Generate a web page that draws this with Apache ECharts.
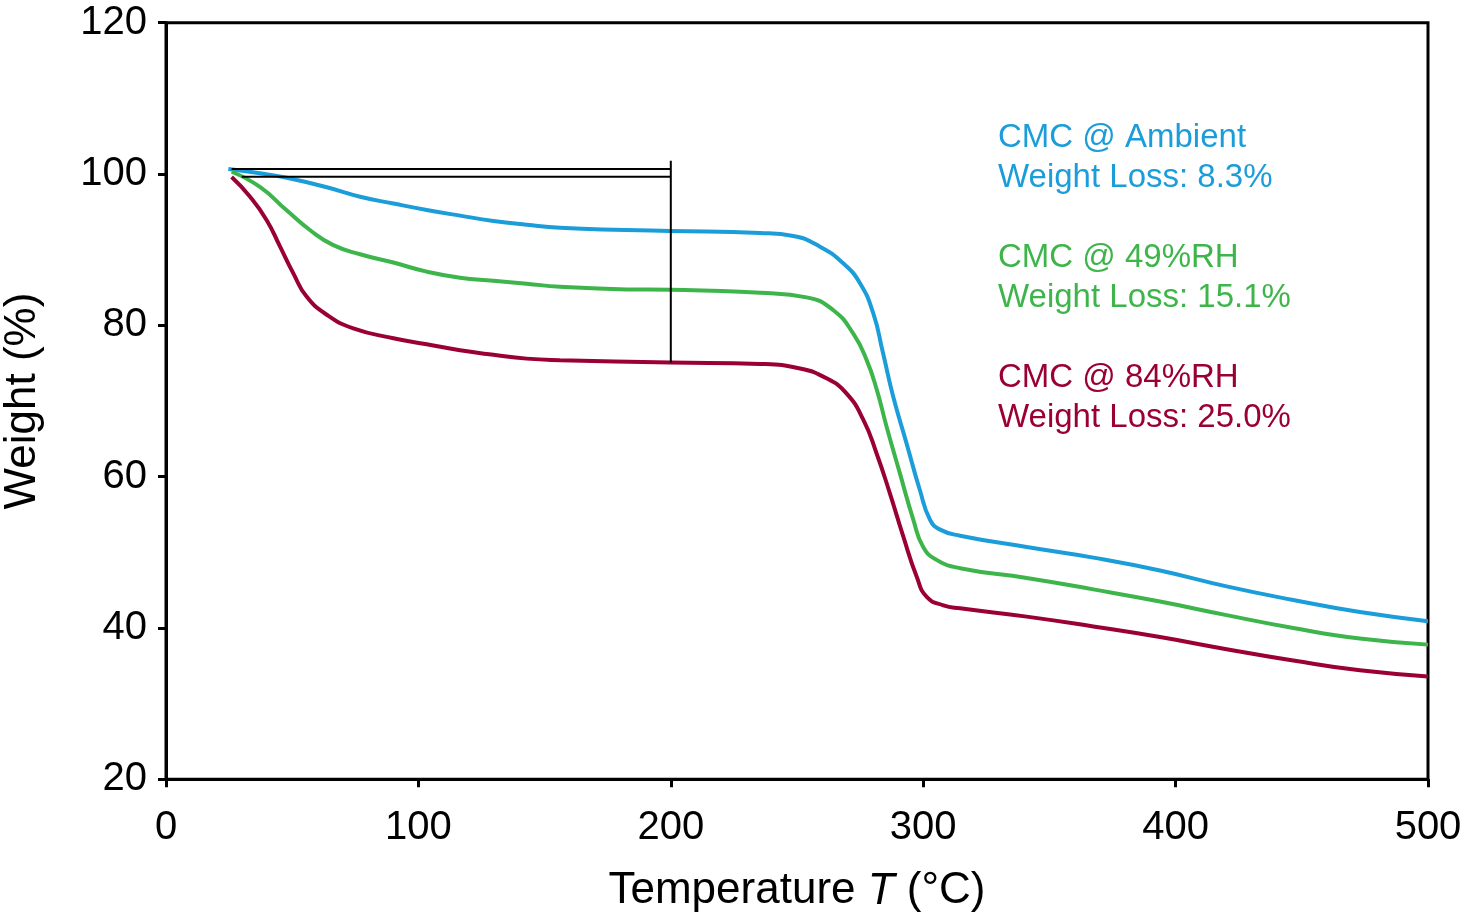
<!DOCTYPE html>
<html>
<head>
<meta charset="utf-8">
<script src="https://cdn.jsdelivr.net/npm/echarts@6/dist/echarts.min.js"></script>
<style>
html,body{margin:0;padding:0;background:#fff;}
#chart{width:1466px;height:924px;}
</style>
</head>
<body>
<div id="chart"></div>
<script>
// ---- data ----
var ambientTemp   = [24.7, 37.2, 47.8, 63.7, 76.9, 90.1, 103.3, 116.5, 129.7, 142.9, 156.1, 182, 199.7, 235.3, 248.5, 259.1, 268.3, 274.9, 280.2, 284.1, 288.1, 293.4, 298.7, 302.7, 306.7, 314.6, 341, 367.4, 393.8, 420.2, 446.6, 473, 500];
var ambientWeight = [100.66, 100.1, 99.5, 98.25, 97.0, 96.1, 95.25, 94.5, 93.8, 93.3, 92.9, 92.6, 92.47, 92.2, 91.8, 90.4, 88.2, 85.6, 81.6, 76.3, 70.6, 64.4, 58.2, 54.3, 53.0, 52.2, 50.7, 49.3, 47.6, 45.5, 43.7, 42.1, 40.9];

var rh49Temp   = [26, 37.2, 47.8, 57, 66.3, 76.9, 90.1, 103.3, 116.5, 129.7, 142.9, 156.1, 182.5, 199.7, 235.3, 253.8, 264.4, 272.3, 277.6, 281.6, 285.5, 290.8, 296.1, 300, 305.3, 314.6, 341, 367.4, 393.8, 420.2, 446.6, 473, 500];
var rh49Weight = [100.3, 98.3, 95.2, 92.6, 90.6, 89.4, 88.3, 87.1, 86.3, 85.9, 85.5, 85.1, 84.75, 84.7, 84.3, 83.7, 82.0, 78.9, 75.4, 71.5, 66.6, 60.4, 54.3, 50.7, 49.0, 47.9, 46.6, 45.1, 43.5, 41.7, 40.0, 38.6, 37.8];

var rh84Temp   = [26, 33.3, 39.9, 45.2, 50.4, 55.7, 63.7, 74.2, 90.1, 103.3, 116.5, 129.7, 142.9, 156.1, 199.7, 235.3, 251.2, 261.7, 269.6, 276.3, 281.5, 286.8, 292.1, 297.4, 301.4, 308, 314.6, 341, 367.4, 393.8, 420.2, 446.6, 473, 500];
var rh84Weight = [99.6, 97.0, 93.9, 90.4, 86.9, 83.8, 81.4, 79.6, 78.3, 77.5, 76.7, 76.1, 75.6, 75.4, 75.1, 74.9, 74.3, 73.0, 71.0, 67.5, 63.1, 57.8, 52.1, 46.8, 44.1, 43.0, 42.6, 41.5, 40.2, 38.8, 37.2, 35.7, 34.4, 33.6];

// reference (measurement) lines
var refUpperTemp = [26, 200];   var refUpperWeight = [100.65, 100.65];
var refLowerTemp = [30, 200];   var refLowerWeight = [99.65, 99.65];
var refVertTemp  = [200, 200];  var refVertWeight  = [101.75, 75.1];

// axis ticks
var xTicks = [0, 100, 200, 300, 400, 500];
var yTicks = [20, 40, 60, 80, 100, 120];

var seriesNames = ['CMC @ Ambient', 'CMC @ 49%RH', 'CMC @ 84%RH'];
var lossLabels  = ['Weight Loss: 8.3%', 'Weight Loss: 15.1%', 'Weight Loss: 25.0%'];
var colors = ['#1B9DD9', '#3DB54A', '#9B0034'];

function zip(a, b) { return a.map(function (v, i) { return [v, b[i]]; }); }

var FONT = '"Liberation Sans", Arial, sans-serif';
var chart = echarts.init(document.getElementById('chart'), null, {renderer: 'canvas'});

function curve(name, t, w, color) {
  return {
    name: name, type: 'line', data: zip(t, w), symbol: 'none',
    smooth: 0.5,
    lineStyle: {color: color, width: 4}, z: 2
  };
}
function ref(t, w) {
  return {
    type: 'line', data: zip(t, w), symbol: 'none', smooth: false,
    lineStyle: {color: '#000', width: 2}, z: 3, silent: true
  };
}

var graphics = [];
for (var i = 0; i < 3; i++) {
  graphics.push({
    type: 'text', left: 998, top: 118 + i * 120, z: 10,
    style: {
      text: seriesNames[i] + '\n' + lossLabels[i],
      fill: colors[i], font: '33px ' + FONT, lineHeight: 40
    }
  });
}

chart.setOption({
  animation: false,
  backgroundColor: '#fff',
  grid: {left: 166, right: 38, top: 22.7, bottom: 144.7, show: true,
         borderColor: '#000', borderWidth: 3, containLabel: false,
         outerBoundsMode: 'none'},
  xAxis: {
    type: 'value', min: xTicks[0], max: xTicks[xTicks.length - 1], interval: 100,
    axisLine: {show: true, lineStyle: {color: '#000', width: 3}},
    axisTick: {show: true, inside: false, length: 8, lineStyle: {color: '#000', width: 3}},
    axisLabel: {color: '#000', fontSize: 40, fontFamily: FONT, margin: 29},
    splitLine: {show: false},
    name: '{n|Temperature }{i|T}{n| (°C)}',
    nameLocation: 'middle', nameGap: 90,
    nameTextStyle: {rich: {
      n: {fontSize: 44, fontFamily: FONT, color: '#000'},
      i: {fontSize: 44, fontFamily: FONT, color: '#000', fontStyle: 'italic'}
    }}
  },
  yAxis: {
    type: 'value', min: yTicks[0], max: yTicks[yTicks.length - 1], interval: 20,
    axisLine: {show: true, lineStyle: {color: '#000', width: 3}},
    axisTick: {show: true, inside: false, length: 8, lineStyle: {color: '#000', width: 3}},
    axisLabel: {color: '#000', fontSize: 40, fontFamily: FONT, margin: 19},
    splitLine: {show: false},
    name: 'Weight (%)', nameLocation: 'middle', nameGap: 121,
    nameTextStyle: {fontSize: 44, fontFamily: FONT, color: '#000'}
  },
  series: [
    curve(seriesNames[0], ambientTemp, ambientWeight, colors[0]),
    curve(seriesNames[1], rh49Temp, rh49Weight, colors[1]),
    curve(seriesNames[2], rh84Temp, rh84Weight, colors[2]),
    ref(refUpperTemp, refUpperWeight),
    ref(refLowerTemp, refLowerWeight),
    ref(refVertTemp, refVertWeight)
  ],
  graphic: graphics
});
</script>
</body>
</html>
